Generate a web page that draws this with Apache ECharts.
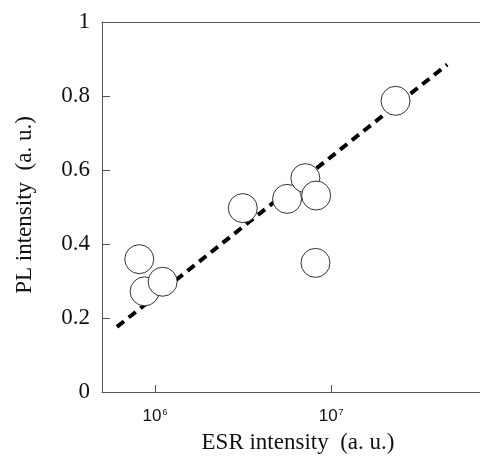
<!DOCTYPE html>
<html>
<head>
<meta charset="utf-8">
<script src="https://cdn.jsdelivr.net/npm/echarts@6/dist/echarts.min.js"></script>
<style>html,body{margin:0;padding:0;background:#fff}#c{width:480px;height:456px}</style>
</head>
<body>
<div id="c"></div>
<script>
// ESR intensity (a.u.) and PL intensity (a.u.) per sample
var esrValues = [8.14e5, 8.73e5, 1.105e6, 3.15e6, 5.62e6, 7.14e6, 8.22e6, 2.32e7, 8.15e6];
var plValues  = [0.359, 0.272, 0.298, 0.497, 0.522, 0.578, 0.531, 0.787, 0.349];
// fitted trend line endpoints
var fitEsr = [6.08e5, 4.56e7];
var fitPl  = [0.176, 0.885];
var yTicks = [0, 0.2, 0.4, 0.6, 0.8, 1];

var chart = echarts.init(document.getElementById('c'), null, {renderer: 'canvas'});
var points = esrValues.map(function (v, i) { return [v, plValues[i]]; });
var fit = fitEsr.map(function (v, i) { return [v, fitPl[i]]; });
var serif = '"Liberation Serif", "Times New Roman", serif';
var sans = '"Liberation Sans", Arial, sans-serif';

chart.setOption({
  animation: false,
  backgroundColor: '#fff',
  grid: {left: 102, top: 22, right: 0, bottom: 64, containLabel: false},
  xAxis: [{
    type: 'log', min: 5e5, max: 7e7, logBase: 10,
    axisLine: {show: true, lineStyle: {color: '#555', width: 1}},
    axisTick: {show: true, inside: true, length: 7, lineStyle: {color: '#555'}},
    minorTick: {show: false},
    splitLine: {show: false},
    axisLabel: {
      margin: 16, color: '#111', fontFamily: sans, fontSize: 17,
      showMinLabel: false, showMaxLabel: false,
      formatter: function (v) {
        var e = Math.round(Math.log10(v));
        if (Math.abs(Math.log10(v) - e) > 1e-6) return '';
        return '{b|10}{s|' + e + '}';
      },
      rich: {
        b: {fontSize: 17, lineHeight: 17, fontFamily: sans, color: '#111', verticalAlign: 'bottom'},
        s: {fontSize: 9, lineHeight: 17, fontFamily: sans, color: '#111', verticalAlign: 'top', padding: [0, 0, 0, 1]}
      }
    }
  }, {
    type: 'log', min: 5e5, max: 7e7, position: 'top',
    axisLine: {show: true, lineStyle: {color: '#555', width: 1}},
    axisTick: {show: false}, axisLabel: {show: false}, splitLine: {show: false}
  }],
  yAxis: {
    type: 'value', min: yTicks[0], max: yTicks[yTicks.length - 1], interval: 0.2,
    axisLine: {show: true, lineStyle: {color: '#555', width: 1}},
    axisTick: {show: true, inside: true, length: 8, lineStyle: {color: '#555'}},
    splitLine: {show: false},
    axisLabel: {margin: 12, color: '#111', fontFamily: serif, fontSize: 23}
  },
  graphic: [
    {type: 'text', x: 298, y: 443,
     style: {text: 'ESR intensity  (a. u.)', font: '23px ' + serif, fill: '#111', align: 'center', verticalAlign: 'middle'}},
    {type: 'text', x: 25, y: 205, rotation: Math.PI / 2,
     style: {text: 'PL intensity  (a. u.)', font: '23px ' + serif, fill: '#111', align: 'center', verticalAlign: 'middle'}}
  ],
  series: [{
    type: 'line', data: fit, symbol: 'none', z: 1,
    lineStyle: {color: '#000', width: 4, type: [9, 6], cap: 'butt'}
  }, {
    type: 'scatter', data: points, symbol: 'circle', symbolSize: 29, z: 3,
    itemStyle: {color: '#fff', borderColor: '#333', borderWidth: 1, opacity: 1}
  }]
});
</script>
</body>
</html>
